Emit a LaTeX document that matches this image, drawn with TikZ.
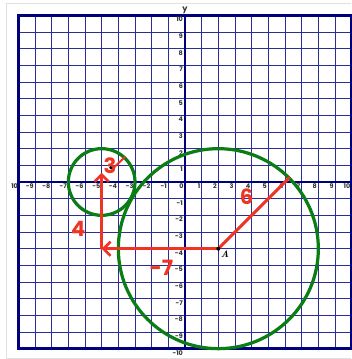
\documentclass[tikz,border=0pt]{standalone}
\usepackage{fontspec}
\newfontfamily\tickfont{Poppins}
\usetikzlibrary{arrows.meta}
\definecolor{gridblue}{RGB}{45,45,150}
\definecolor{axisnavy}{RGB}{0,0,125}
\definecolor{penred}{RGB}{238,52,36}
\definecolor{pengreen}{RGB}{10,125,20}
\begin{document}
\begin{tikzpicture}[
        gridline/.style={gridblue, line width=1.4pt},
        axisline/.style={axisnavy, line width=5pt},
        ticklabel/.style={font=\tickfont\bfseries\fontsize{11}{11}\selectfont, inner sep=0pt, text=black!80},
        circ/.style={pengreen, line width=5.5pt},
        pen/.style={penred, line width=5pt, line cap=round},
        penarrow/.style={pen, -{Straight Barb[length=12pt, width=24pt, line width=4.5pt]}},
        handtext/.style={penred, font=\tickfont\bfseries\fontsize{36}{36}\selectfont, inner sep=0pt}
    ]
        \useasboundingbox (-11.1,-10.62) rectangle (9.96,10.92);

        % Paper edge
        \draw[black!12, line width=0.8pt] (9.96,-10.55) -- (-10.7,-10.55) -- (-10.7,10.74) -- (9.96,10.74);

        % Grid and axes
        \draw[gridline] (-10,-10) grid (10,10);
        \draw[axisline] (-10,-10) rectangle (10,10);
        \draw[axisline] (-10,0) -- (10,0);
        \draw[axisline] (0,-10) -- (0,10);
        \foreach \x in {-9,...,10}
            \node[ticklabel, anchor=north east] at (\x-0.08,-0.12) {\x};
        \node[ticklabel, anchor=north east] at (-10.02,-0.12) {10};
        \foreach \y in {-10,...,-1,1,2,...,10}
            \node[ticklabel, anchor=north east] at (-0.12,\y-0.1) {\y};
        \node[ticklabel, anchor=south, font=\tickfont\bfseries\fontsize{14}{14}\selectfont] (ylab) at (0,10.12) {y};

        % Circles
        \coordinate (A) at (2,-4);
        \coordinate (C) at (-5,0);
        \draw[circ] (A) circle (6);
        \draw[circ] (C) circle (2);

        % Working
        \coordinate (P) at ([shift={(45:6)}]A);
        \coordinate (B) at (-5,-4);
        \coordinate (T) at (-5,0.55);
        \draw[pen] (A) -- (P);
        \draw[penarrow] (A) -- (B);
        \draw[penarrow] (B) -- (T);
        \draw[pen, line width=3.5pt] (-4.3,0.84) -- (-3.6,1.5);
        \node[handtext] (six) at (3.7,-0.9) {6};
        \node[handtext] (four) at (-6.4,-2.8) {4};
        \node[handtext, anchor=east] (seven) at (-0.7,-5.15) {-7};
        \node[handtext] (three) at (-4.5,0.96) {3};

        % Point A
        \fill (A) circle (0.12);
        \node[font=\bfseries\itshape\fontsize{16}{16}\selectfont, anchor=north west, inner sep=0pt] (Alab) at (2.15,-4.12) {A};
        \fill (-4.45,0.85) circle (0.1);
    \end{tikzpicture}
\end{document}
